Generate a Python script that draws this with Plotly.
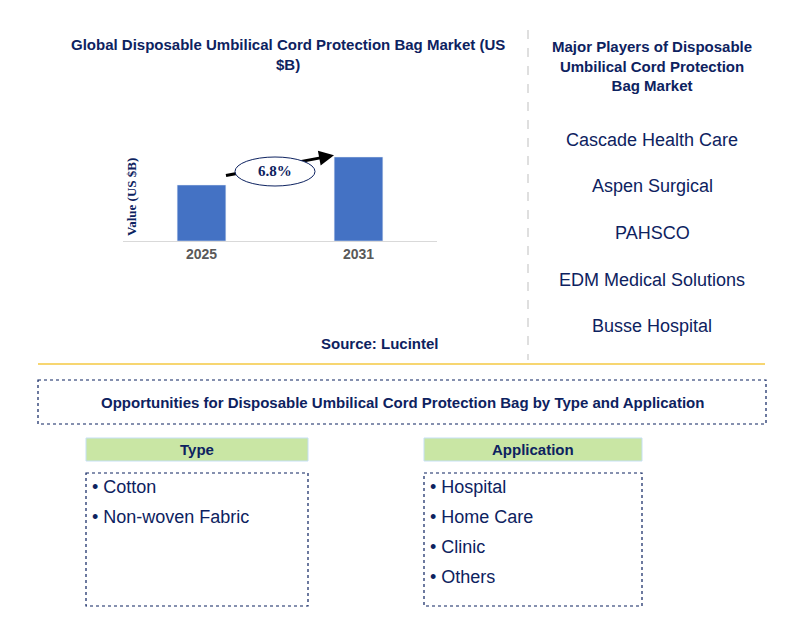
import plotly.graph_objects as go

W, H = 789, 627
years = ['2025', '2031']
values = [1.0, 1.5]
cagr = '6.8%'
players = ['Cascade Health Care', 'Aspen Surgical', 'PAHSCO', 'EDM Medical Solutions', 'Busse Hospital']
types = ['Cotton', 'Non-woven Fabric']
applications = ['Hospital', 'Home Care', 'Clinic', 'Others']

NAVY = '#0d2260'
OFF = 8  # page body margin
FW, FH = W - 2 * OFF, H - 2 * OFF


def px(x):
    return (x - OFF) / FW


def py(y):
    return 1 - (y - OFF) / FH


fig = go.Figure(go.Bar(x=years, y=values, marker_color='#4472c4', width=0.31))

fig.update_layout(
    width=FW, height=FH, margin=dict(l=0, r=0, t=0, b=0),
    plot_bgcolor='white', paper_bgcolor='white', showlegend=False,
    xaxis=dict(domain=[px(123), px(437)], range=[-0.5, 1.5], showline=True, linecolor='#d9d9d9',
               tickfont=dict(family='Arial', size=14, color='#595959', weight='bold'), ticks=''),
    yaxis=dict(domain=[py(241), py(129)], range=[0, 2], visible=False),
)

shapes = []
ann = []


def text(x, y, s, size, bold=False, color=NAVY, family='Arial', xanchor='center', **kw):
    ann.append(dict(x=px(x), y=py(y), xref='paper', yref='paper', showarrow=False,
                    xanchor=xanchor, yanchor='middle',
                    text=f'<b>{s}</b>' if bold else s,
                    font=dict(family=family, size=size, color=color), **kw))


# title
text(288, 55, 'Global Disposable Umbilical Cord Protection Bag Market (US<br>$B)', 15, True)
text(131, 197, 'Value (US $B)', 13, True, family='Times New Roman', textangle=-90)
text(380, 343, 'Source: Lucintel', 15, True)

# growth arrow + ellipse (line under the ellipse, head after it)
shapes.append(dict(type='line', xref='x', yref='y', x0=0.156, y0=1.17, x1=0.8, y1=1.507,
                   line=dict(color='black', width=3)))
shapes.append(dict(type='circle', xref='paper', yref='paper', x0=px(235), x1=px(315),
                   y0=py(186), y1=py(157), fillcolor='white', line=dict(color=NAVY, width=1)))
ann.append(dict(x=0.844, y=1.53, ax=0.76, ay=1.486, xref='x', yref='y', axref='x', ayref='y',
                showarrow=True, arrowhead=2, arrowwidth=3, arrowcolor='black', text=''))
text(275, 171, cagr, 15, True, family='Times New Roman')

# right panel
shapes.append(dict(type='line', xref='paper', yref='paper', x0=px(528), x1=px(528), y0=py(30), y1=py(360),
                   line=dict(color='#bfbfbf', width=1, dash='dash')))
text(652, 66, 'Major Players of Disposable<br>Umbilical Cord Protection<br>Bag Market', 15, True)
for i, p in enumerate(players):
    text(652, 140 + i * 46.5, p, 18, color=NAVY)

# separator
shapes.append(dict(type='line', xref='paper', yref='paper', x0=px(38), x1=px(765), y0=py(364), y1=py(364),
                   line=dict(color='#f5c842', width=1.5)))

# opportunities box
shapes.append(dict(type='rect', xref='paper', yref='paper', x0=px(38), x1=px(766), y0=py(380), y1=py(424),
                   line=dict(color=NAVY, width=1.2, dash='dot')))
text(402, 402, 'Opportunities for Disposable Umbilical Cord Protection Bag by Type and Application', 15, True)


def column(x0, x1, head, items):
    shapes.append(dict(type='rect', xref='paper', yref='paper', x0=px(x0), x1=px(x1), y0=py(438), y1=py(461),
                       fillcolor='#c9e6a4', line=dict(color='#c5dff5', width=1)))
    text((x0 + x1) / 2, 449.5, head, 15, True)
    shapes.append(dict(type='rect', xref='paper', yref='paper', x0=px(x0), x1=px(x1), y0=py(473), y1=py(606),
                       line=dict(color=NAVY, width=1.2, dash='dot')))
    for i, it in enumerate(items):
        text(x0 + 4, 487 + i * 30, '• ' + it, 18, xanchor='left')


column(86, 308, 'Type', types)
column(424, 642, 'Application', applications)

fig.update_layout(shapes=shapes, annotations=ann)
fig.write_html('out.html')
